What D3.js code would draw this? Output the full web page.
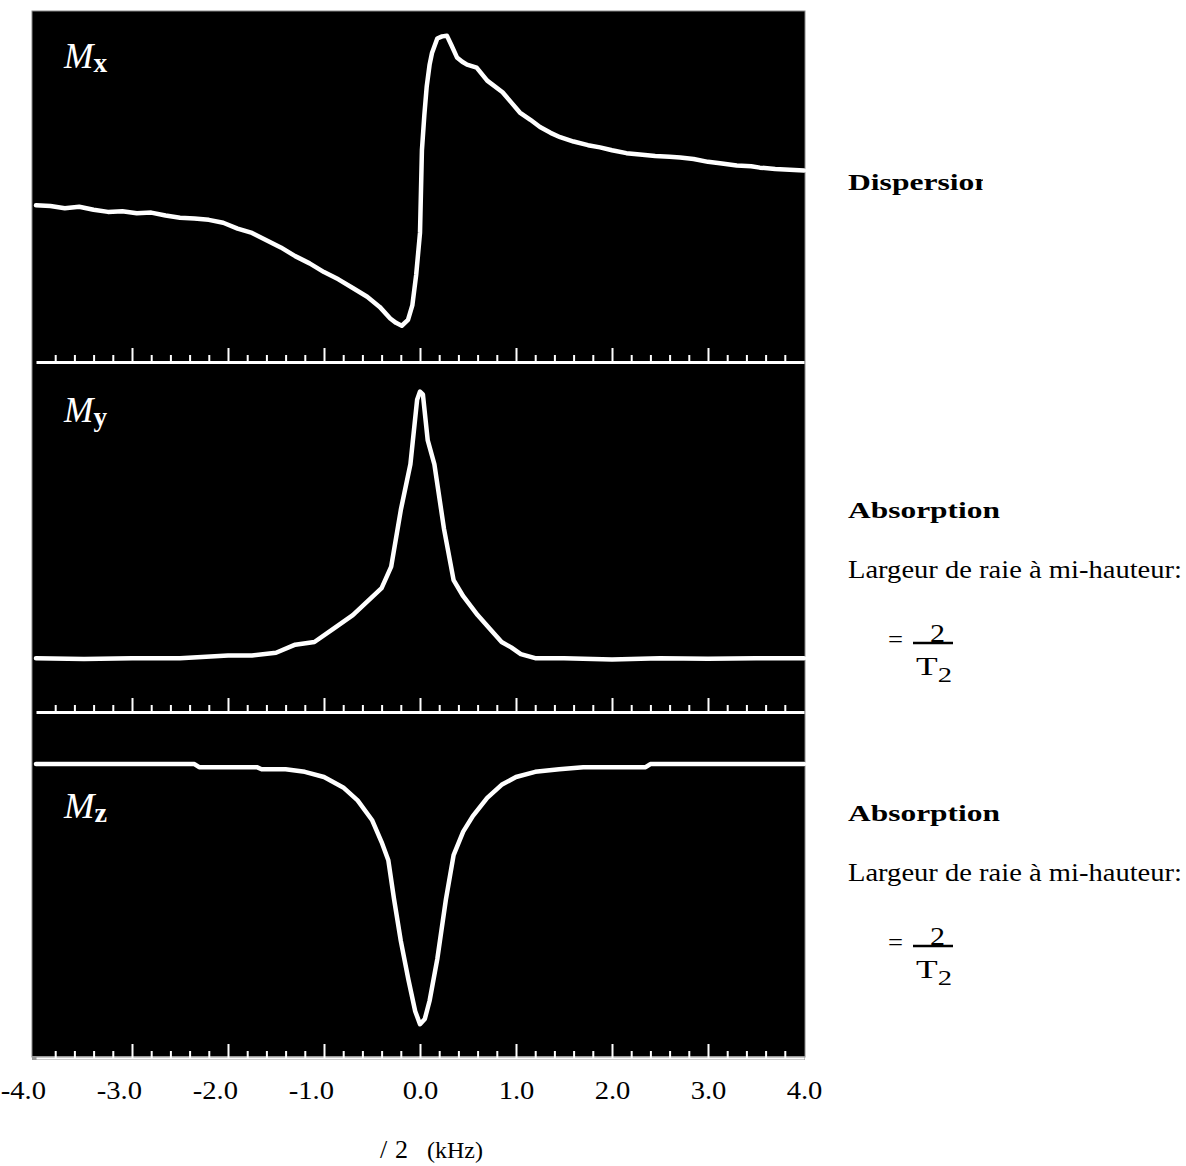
<!DOCTYPE html>
<html>
<head>
<meta charset="utf-8">
<script src="https://cdn.jsdelivr.net/npm/d3@7"></script>
<style>
  body { margin: 0; background: #fff; }
  svg { display: block; }
</style>
</head>
<body>
<svg width="1186" height="1166"></svg>
<script>
// frequency offset (kHz) and signal of each magnetisation component
const mxFreq = [-4.00,-3.85,-3.70,-3.55,-3.40,-3.25,-3.10,-2.95,-2.80,-2.65,-2.50,-2.35,-2.20,-2.05,-1.90,-1.75,-1.60,-1.45,-1.30,-1.15,-1.00,-0.85,-0.70,-0.55,-0.42,-0.31,-0.25,-0.19,-0.125,-0.08,-0.04,0.00,0.02,0.045,0.07,0.10,0.125,0.18,0.23,0.28,0.33,0.385,0.44,0.49,0.59,0.70,0.86,0.95,1.04,1.15,1.25,1.36,1.46,1.60,1.75,1.875,2.00,2.15,2.29,2.45,2.60,2.71,2.85,3.00,3.125,3.30,3.45,3.54,3.70,3.85,4.00]
const mxVal = [-0.17,-0.175,-0.19,-0.18,-0.20,-0.215,-0.21,-0.225,-0.22,-0.24,-0.255,-0.26,-0.27,-0.29,-0.33,-0.36,-0.41,-0.46,-0.52,-0.57,-0.63,-0.68,-0.74,-0.80,-0.87,-0.95,-0.98,-1.00,-0.96,-0.86,-0.65,-0.36,0.21,0.45,0.65,0.80,0.88,0.98,0.995,1.00,0.93,0.85,0.82,0.80,0.78,0.69,0.61,0.54,0.47,0.42,0.37,0.33,0.30,0.27,0.245,0.23,0.21,0.19,0.18,0.17,0.165,0.16,0.15,0.13,0.12,0.105,0.10,0.09,0.08,0.075,0.07]

const myFreq = [-4.0,-3.5,-3.0,-2.5,-2.0,-1.75,-1.5,-1.3,-1.1,-0.9,-0.7,-0.55,-0.4,-0.3,-0.2,-0.1,-0.03,0.0,0.03,0.08,0.15,0.25,0.35,0.45,0.6,0.75,0.85,0.95,1.05,1.2,1.5,2.0,2.5,3.0,3.5,4.0]
const myVal = [0.00,-0.003,0.00,0.00,0.01,0.01,0.02,0.05,0.06,0.11,0.16,0.21,0.26,0.34,0.55,0.72,0.96,0.99,0.98,0.81,0.72,0.48,0.29,0.23,0.16,0.10,0.06,0.04,0.015,0.00,0.00,-0.005,0.00,-0.002,0.00,0.00]

const mzFreq = [-4.0,-3.0,-2.35,-2.3,-1.7,-1.65,-1.4,-1.2,-1.0,-0.8,-0.65,-0.5,-0.4,-0.33,-0.27,-0.2,-0.12,-0.05,0.0,0.05,0.1,0.18,0.27,0.35,0.45,0.55,0.7,0.85,1.0,1.2,1.45,1.7,2.35,2.4,3.0,4.0]
const mzVal = [0.0,0.0,0.0,-0.012,-0.012,-0.02,-0.02,-0.03,-0.05,-0.09,-0.14,-0.215,-0.30,-0.37,-0.52,-0.68,-0.83,-0.95,-1.0,-0.98,-0.91,-0.75,-0.52,-0.35,-0.26,-0.20,-0.13,-0.08,-0.05,-0.03,-0.02,-0.012,-0.012,0.0,0.0,0.0]

const majorTicks = [-3, -2, -1, 0, 1, 2, 3]
const labelTicks = [-4, -3, -2, -1, 0, 1, 2, 3, 4]
const tickLabels = ["-4.0", "-3.0", "-2.0", "-1.0", "0.0", "1.0", "2.0", "3.0", "4.0"]

const svg = d3.select("svg")
const serif = "'Liberation Serif', 'Times New Roman', serif"

const x = d3.scaleLinear().domain([-4, 4]).range([36, 804])

// black plotting area
svg.append("rect")
  .attr("x", 32).attr("y", 11)
  .attr("width", 773).attr("height", 1046)
  .attr("fill", "#000")
  .attr("stroke", "#888").attr("stroke-width", 1)

const panels = [
  { freq: mxFreq, val: mxVal, top: 11, bottom: 362, domain: [-1.25, 1.17], label: "x", ly: 68 },
  { freq: myFreq, val: myVal, top: 362, bottom: 712, domain: [-0.2, 1.1], label: "y", ly: 422 },
  { freq: mzFreq, val: mzVal, top: 712, bottom: 1058, domain: [-1.13, 0.2], label: "z", ly: 818 }
]

const minorTicks = d3.range(-3.8, 3.81, 0.2).filter(d => Math.abs(d - Math.round(d)) > 0.05)

panels.forEach(function (p, i) {
  const y = d3.scaleLinear().domain(p.domain).range([p.bottom, p.top])

  const g = svg.append("g")

  if (i == 2) {
    // bottom axis line sits on the white page
    g.append("line")
      .attr("x1", 32).attr("x2", 805)
      .attr("y1", p.bottom).attr("y2", p.bottom)
      .attr("stroke", "#999").attr("stroke-width", 4)
  }

  const minor = g.append("g")
    .attr("transform", "translate(0," + p.bottom + ")")
    .call(d3.axisTop(x).tickValues(minorTicks).tickSize(7).tickSizeOuter(0).tickFormat(""))
  const major = g.append("g")
    .attr("transform", "translate(0," + p.bottom + ")")
    .call(d3.axisTop(x).tickValues(majorTicks).tickSize(14).tickSizeOuter(0).tickFormat(""))

  minor.selectAll("line").attr("stroke", "#fff").attr("stroke-width", 2)
  major.selectAll("line").attr("stroke", "#fff").attr("stroke-width", 2)
  minor.select(".domain").attr("stroke", "#fff").attr("stroke-width", i == 2 ? 2 : 3)
  major.select(".domain").remove()

  const line = d3.line()
    .x((d, k) => x(p.freq[k]))
    .y((d, k) => y(p.val[k]))

  g.append("path")
    .datum(p.val)
    .attr("d", line)
    .attr("fill", "none")
    .attr("stroke", "#fff")
    .attr("stroke-width", 4.5)
    .attr("stroke-linejoin", "round")
    .attr("stroke-linecap", "round")

  const lab = g.append("text")
    .attr("x", 64).attr("y", p.ly)
    .attr("fill", "#fff")
    .attr("font-family", serif)
    .attr("textLength", 43).attr("lengthAdjust", "spacingAndGlyphs")
  lab.append("tspan").attr("font-style", "italic").attr("font-size", 35).text("M")
  lab.append("tspan").attr("font-weight", "bold").attr("font-size", 27).attr("dy", 4).text(p.label)
})

// tick labels under the last panel
const labAxis = svg.append("g")
  .attr("transform", "translate(0,1078)")
  .call(d3.axisBottom(x).tickValues(labelTicks).tickSize(0).tickFormat((d, k) => tickLabels[k]))
labAxis.select(".domain").remove()
labAxis.selectAll("text")
  .attr("fill", "#000")
  .attr("font-family", serif)
  .attr("font-size", 26)
  .attr("dx", d => d < 0 ? -12 : 0)
  .attr("transform", "scale(1.1,1)")

// axis title (the Greek symbols of the original are not rendered)
svg.append("text")
  .attr("x", 380).attr("y", 1158)
  .attr("font-family", serif).attr("font-size", 26)
  .text("/")
svg.append("text")
  .attr("x", 395).attr("y", 1158)
  .attr("font-family", serif).attr("font-size", 26)
  .text("2")
svg.append("text")
  .attr("x", 427).attr("y", 1158)
  .attr("font-family", serif).attr("font-size", 24)
  .text("(kHz)")

// right hand annotations
svg.append("clipPath").attr("id", "clipR")
  .append("rect").attr("x", 0).attr("y", 0).attr("width", 983).attr("height", 1166)

svg.append("text")
  .attr("clip-path", "url(#clipR)")
  .attr("x", 848).attr("y", 190)
  .attr("font-family", serif).attr("font-size", 23).attr("font-weight", "bold")
  .attr("textLength", 144).attr("lengthAdjust", "spacingAndGlyphs")
  .text("Dispersion")

function absorptionBlock(dy) {
  svg.append("text")
    .attr("x", 848).attr("y", 518 + dy)
    .attr("font-family", serif).attr("font-size", 23).attr("font-weight", "bold")
    .attr("textLength", 152).attr("lengthAdjust", "spacingAndGlyphs")
    .text("Absorption")
  svg.append("text")
    .attr("x", 848).attr("y", 578 + dy)
    .attr("font-family", serif).attr("font-size", 25)
    .attr("textLength", 334).attr("lengthAdjust", "spacingAndGlyphs")
    .text("Largeur de raie à mi-hauteur:")
  svg.append("text")
    .attr("x", 888).attr("y", 648 + dy)
    .attr("font-family", serif).attr("font-size", 25)
    .attr("textLength", 15).attr("lengthAdjust", "spacingAndGlyphs")
    .text("=")
  svg.append("text")
    .attr("x", 930).attr("y", 642 + dy)
    .attr("font-family", serif).attr("font-size", 25)
    .attr("textLength", 15).attr("lengthAdjust", "spacingAndGlyphs")
    .text("2")
  svg.append("line")
    .attr("x1", 913).attr("x2", 953)
    .attr("y1", 643 + dy).attr("y2", 643 + dy)
    .attr("stroke", "#000").attr("stroke-width", 2.5)
  const t = svg.append("text")
    .attr("x", 916).attr("y", 675 + dy)
    .attr("font-family", serif).attr("font-size", 26)
    .attr("textLength", 36).attr("lengthAdjust", "spacingAndGlyphs")
  t.append("tspan").text("T")
  t.append("tspan").attr("font-size", 21).attr("dy", 7).text("2")
}
absorptionBlock(0)
absorptionBlock(303)
</script>
</body>
</html>
